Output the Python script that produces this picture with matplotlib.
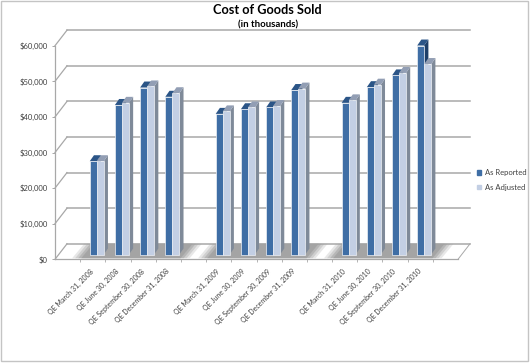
import matplotlib

matplotlib.use("Agg")
import matplotlib.pyplot as plt
from matplotlib.patches import Patch, Rectangle

plt.rcParams["font.family"] = ["Lato", "DejaVu Sans"]

quarters = ["QE March 31, 2008", "QE June 30, 2008", "QE September 30, 2008", "QE December 31, 2008",
            "QE March 31, 2009", "QE June 30, 2009", "QE September 30, 2009", "QE December 31, 2009",
            "QE March 31, 2010", "QE June 30, 2010", "QE September 30, 2010", "QE December 31, 2010"]
slots = [1, 2, 3, 4, 6, 7, 8, 9, 11, 12, 13, 14]
group_starts = [1, 6, 11]
as_reported = [26200, 42000, 46900, 44300, 39500, 40800, 41300, 46200, 42600, 47000, 50300, 58700]
as_adjusted = [26200, 42600, 47200, 45300, 40200, 41300, 41700, 46600, 43300, 47700, 51000, 53500]
yticks = [0, 10000, 20000, 30000, 40000, 50000, 60000]

W, H = 530, 363
X0, X1, Y_TOP, Y_BOT = 55, 458, 45.7, 259.3
N_SLOTS = 16
PX_X = (X1 - X0) / N_SLOTS       # pixels per slot
PX_Y = (Y_BOT - Y_TOP) / 60000   # pixels per dollar

# 3-D look: depth of the chart box and of a bar, px turned into data units
BOX_DX, BOX_DY = 12 / PX_X, 15.5 / PX_Y
BAR_DX, BAR_DY = 4.2 / PX_X, 6 / PX_Y
BASE = 4.8 / PX_Y
BAR_W = 7 / PX_X
GRID = "#a8a8a8"


def draw_bars(ax, xs, vals, front, side, top):
    for x, v in zip(xs, vals):
        ax.bar(x, v, BAR_W, bottom=BASE, align="edge", color=front,
               edgecolor="#eef1f6", linewidth=0.5, zorder=4)
        r, t = x + BAR_W, BASE + v
        ax.fill([r, r + BAR_DX, r + BAR_DX, r],
                [BASE, BASE + BAR_DY, t + BAR_DY, t], color=side, lw=0, zorder=3.5, clip_on=False)
        ax.fill([x, x + BAR_DX, r + BAR_DX, r],
                [t, t + BAR_DY, t + BAR_DY, t], color=top, lw=0, zorder=3.5, clip_on=False)


fig = plt.figure(figsize=(W / 100, H / 100), dpi=100)
fig.add_artist(Rectangle((1 / W, 2 / H), (W - 3) / W, (H - 3) / H, transform=fig.transFigure,
                         fill=False, edgecolor="#c4c4c4", linewidth=1))
ax = fig.add_axes([X0 / W, 1 - Y_BOT / H, (X1 - X0) / W, (Y_BOT - Y_TOP) / H])
ax.set_xlim(0, N_SLOTS)
ax.set_ylim(0, 60000)
ax.patch.set_visible(False)
for name, sp in ax.spines.items():
    sp.set_visible(name in ("left", "bottom"))
    sp.set_color(GRID)
    sp.set_linewidth(0.9)

# back wall grid and the diagonals that join it to the front axis
for v in yticks:
    ax.plot([BOX_DX, N_SLOTS + BOX_DX], [v + BOX_DY, v + BOX_DY], color=GRID, lw=1.1,
            zorder=1, clip_on=False)
    ax.plot([0, BOX_DX], [v, v + BOX_DY], color=GRID, lw=0.9, zorder=1, clip_on=False)
ax.plot([N_SLOTS, N_SLOTS + BOX_DX], [0, BOX_DY], color=GRID, lw=0.7, zorder=1, clip_on=False)

# soft floor shadow, one block per year
for s in group_starts:
    for grow, alpha in [(0.30, 0.25), (0.18, 0.35), (0.06, 0.55), (-0.06, 0.9)]:
        ax.fill([s - 0.02 - grow, s + 4.05 + grow, s + 4.05 + grow + BOX_DX, s - 0.02 - grow + BOX_DX],
                [300, 300, BOX_DY, BOX_DY], color="#a3a3a3", alpha=alpha, lw=0, zorder=2)

xs_rep = [s + 0.38 for s in slots]
xs_adj = [x + BAR_W for x in xs_rep]
draw_bars(ax, xs_rep, as_reported, "#3f6ea5", "#1e3f68", "#2b5587")
draw_bars(ax, xs_adj, as_adjusted, "#c3cfe4", "#7f8a99", "#929eb4")

ax.set_yticks(yticks)
ax.set_yticklabels([f"${v:,}" for v in yticks], fontsize=5.5, color="#404040")
ax.set_xticks([s + 0.4 for s in slots])
ax.set_xticklabels(quarters, rotation=45, ha="right", va="top", rotation_mode="anchor",
                   fontsize=5.0, color="#404040")
ax.set_xticks(range(1, N_SLOTS), minor=True)
ax.tick_params(axis="x", which="major", length=0, pad=6)
ax.tick_params(axis="x", which="minor", length=2, width=0.6, color=GRID)
ax.tick_params(axis="y", length=2, width=0.7, color=GRID, pad=3.5)

fig.text(267 / W, 1 - 10.5 / H, "Cost of Goods Sold", ha="center", va="center",
         fontsize=9.2, fontweight="bold", color="black")
fig.text(268 / W, 1 - 25 / H, "(in thousands)", ha="center", va="center",
         fontsize=6.9, fontweight="bold", color="black")

handles = [Patch(color="#3f6ea5", label="As Reported"), Patch(color="#c3cfe4", label="As Adjusted")]
fig.legend(handles=handles, loc="center left", bbox_to_anchor=(470 / W, 1 - 180 / H), frameon=False,
           fontsize=5.5, labelcolor="#404040", handlelength=0.6, handleheight=0.6,
           handletextpad=0.4, labelspacing=0.95)

fig.savefig("out.png", dpi=100)
